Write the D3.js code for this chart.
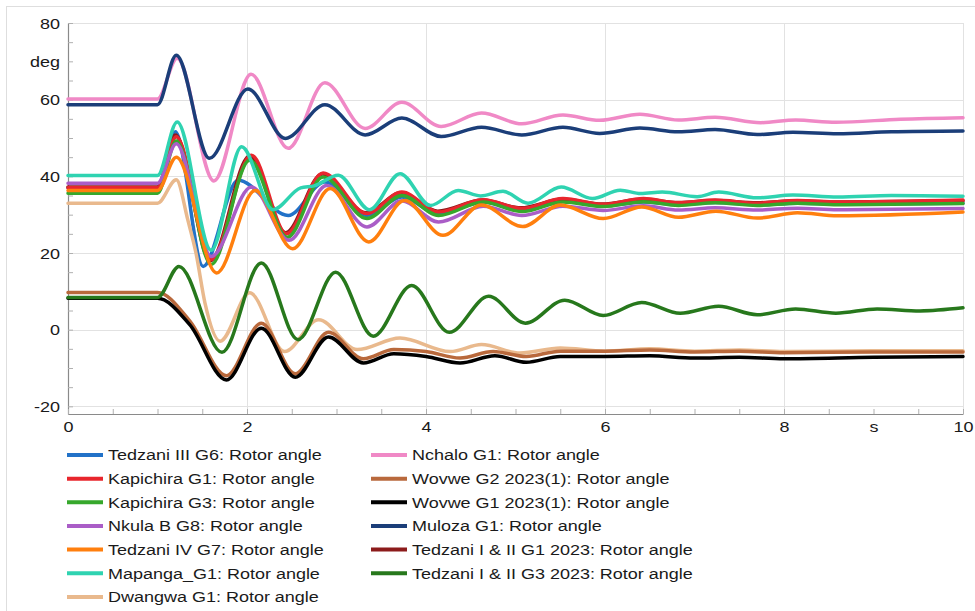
<!DOCTYPE html>
<html>
<head>
<meta charset="utf-8">
<script src="https://cdn.jsdelivr.net/npm/d3@7"></script>
<style>
  html, body { margin: 0; padding: 0; background: #fff; }
  svg { display: block; font-family: "Liberation Sans", Arial, sans-serif; }
</style>
</head>
<body>
<svg id="chart" width="975" height="611"></svg>
<script>
// Generator rotor angles after the disturbance at t = 1 s.
// Each entry: [time in s, rotor angle in deg]
const tedzaniIII_G6 = [[0,37.0],[1.0,37.0],[1.2,51.6],[1.51,16.5],[1.9,39.0],[2.46,29.8],[2.87,38.5],[3.34,29.8],[3.73,34.6],[4.14,30.2],[4.64,33.3],[5.07,31.3],[5.53,33.5],[5.98,32.3],[6.43,33.3],[6.82,32.6],[7.23,33.2],[7.7,32.6],[8.15,33.0],[8.6,32.8],[10,33.0]];
const kapichiraG1 = [[0,37.0],[1.0,37.0],[1.21,50.3],[1.6,18.3],[2.05,45.5],[2.44,25.0],[2.85,40.9],[3.34,30.3],[3.73,35.9],[4.14,30.7],[4.64,33.9],[5.07,31.6],[5.53,34.2],[5.98,32.7],[6.43,34.2],[6.82,33.1],[7.23,33.8],[7.7,33.0],[8.15,33.7],[8.6,33.3],[10,33.8]];
const kapichiraG3 = [[0,35.6],[1.0,35.6],[1.21,49.2],[1.6,17.0],[2.03,44.2],[2.45,24.1],[2.85,39.8],[3.34,29.0],[3.73,35.0],[4.14,29.8],[4.64,33.3],[5.07,30.8],[5.53,33.3],[5.98,32.1],[6.43,33.4],[6.82,32.4],[7.23,33.1],[7.7,32.4],[8.15,33.0],[8.6,32.6],[10,32.9]];
const nkulaB_G8 = [[0,38.2],[1.0,38.2],[1.21,48.5],[1.6,19.1],[2.05,37.2],[2.47,23.3],[2.89,37.6],[3.34,26.8],[3.73,33.6],[4.14,28.1],[4.64,32.2],[5.07,29.8],[5.53,32.2],[5.98,31.1],[6.43,32.3],[6.82,31.2],[7.23,31.8],[7.7,31.2],[8.15,31.7],[8.6,31.3],[10,31.6]];
const tedzaniIV_G7 = [[0,36.3],[1.0,36.3],[1.21,45.0],[1.66,14.8],[2.09,36.3],[2.51,21.1],[2.93,36.8],[3.36,22.9],[3.76,33.7],[4.19,24.6],[4.62,32.5],[5.08,26.9],[5.5,32.5],[5.98,29.0],[6.41,32.0],[6.82,29.3],[7.24,30.9],[7.7,29.1],[8.15,30.5],[8.6,29.7],[10,30.7]];
const mapangaG1 = [[0,40.2],[1.0,40.2],[1.22,54.2],[1.6,20.7],[1.94,47.7],[2.29,31.3],[2.6,37.0],[2.75,37.5],[3.02,40.3],[3.37,31.3],[3.71,40.7],[4.05,32.4],[4.36,36.3],[4.61,34.9],[4.86,36.1],[5.14,33.0],[5.51,37.2],[5.86,34.2],[6.17,36.4],[6.4,35.5],[6.64,35.9],[7.03,34.7],[7.27,35.9],[7.7,34.4],[8.1,35.1],[8.6,34.6],[9.2,35.0],[10,34.8]];
const dwangwaG1 = [[0,33.0],[1.0,33.0],[1.21,39.1],[1.34,28.5],[1.43,20.0],[1.53,7.0],[1.70,-3.0],[2.03,9.6],[2.42,-5.7],[2.80,2.6],[3.23,-5.2],[3.71,-2.2],[4.27,-5.7],[4.62,-3.9],[5.05,-6.1],[5.5,-4.8],[6.0,-5.6],[6.5,-5.0],[7.0,-5.6],[7.5,-5.3],[8.0,-5.7],[9.0,-5.5],[10,-5.5]];
const nchaloG1 = [[0,60.2],[1.0,60.2],[1.22,70.8],[1.63,38.8],[2.045,66.6],[2.46,47.3],[2.87,64.4],[3.32,52.5],[3.73,59.3],[4.17,53.0],[4.62,56.5],[5.07,53.7],[5.53,56.0],[5.94,54.6],[6.39,56.2],[6.82,54.7],[7.23,55.4],[7.74,54.0],[8.13,54.7],[8.58,54.1],[9.3,54.9],[10,55.3]];
const wovweG2 = [[0,9.7],[1.0,9.7],[1.36,2.3],[1.77,-12.0],[2.16,1.7],[2.54,-11.5],[2.91,-0.7],[3.30,-7.6],[3.64,-5.2],[4.0,-5.7],[4.38,-7.4],[4.75,-5.7],[5.12,-7.0],[5.5,-5.6],[6.0,-5.6],[6.5,-5.3],[7.0,-5.8],[7.5,-5.6],[8.0,-6.0],[9.0,-5.8],[10,-5.8]];
const wovweG1 = [[0,8.2],[1.0,8.2],[1.36,1.3],[1.77,-13.1],[2.16,0.4],[2.54,-12.4],[2.91,-1.9],[3.30,-8.7],[3.64,-6.3],[4.0,-7.0],[4.38,-8.7],[4.77,-6.8],[5.12,-8.5],[5.5,-7.0],[6.0,-7.0],[6.5,-6.8],[7.0,-7.4],[7.5,-7.2],[8.0,-7.6],[9.0,-7.2],[10,-7.0]];
const mulozaG1 = [[0,58.7],[1.0,58.7],[1.21,71.6],[1.58,44.7],[2.01,62.8],[2.43,49.9],[2.87,58.7],[3.32,50.8],[3.73,55.2],[4.17,50.4],[4.62,52.8],[5.07,50.8],[5.53,52.8],[5.94,51.2],[6.39,52.6],[6.82,51.6],[7.23,52.2],[7.7,50.9],[8.1,51.5],[8.6,51.1],[9.2,51.6],[10,51.8]];
const tedzaniI_II_G1 = [[0,37.2],[1.0,37.2],[1.2,50.8],[1.59,18.0],[2.03,45.3],[2.43,25.3],[2.84,40.6],[3.33,30.5],[3.72,35.7],[4.13,30.9],[4.63,33.8],[5.06,31.8],[5.52,34.0],[5.97,32.8],[6.42,34.0],[6.82,33.2],[7.23,33.7],[7.7,33.1],[8.15,33.6],[8.6,33.3],[10,33.6]];
const tedzaniI_II_G3 = [[0,8.4],[1.0,8.4],[1.24,16.5],[1.72,-5.9],[2.16,17.4],[2.57,-2.6],[2.99,15.0],[3.41,-1.7],[3.84,11.5],[4.26,-0.7],[4.70,8.7],[5.11,1.7],[5.55,7.7],[5.98,3.7],[6.41,7.1],[6.84,4.3],[7.27,6.1],[7.70,3.9],[8.13,5.4],[8.58,4.3],[9.04,5.4],[9.52,4.9],[10,5.7]];

const seriesNames = [
  "Tedzani III G6: Rotor angle",
  "Kapichira G1: Rotor angle",
  "Kapichira G3: Rotor angle",
  "Nkula B G8: Rotor angle",
  "Tedzani IV G7: Rotor angle",
  "Mapanga_G1: Rotor angle",
  "Dwangwa G1: Rotor angle",
  "Nchalo G1: Rotor angle",
  "Wovwe G2 2023(1): Rotor angle",
  "Wovwe G1 2023(1): Rotor angle",
  "Muloza G1: Rotor angle",
  "Tedzani I & II G1 2023: Rotor angle",
  "Tedzani I & II G3 2023: Rotor angle"
];
const seriesData = [tedzaniIII_G6, kapichiraG1, kapichiraG3, nkulaB_G8, tedzaniIV_G7, mapangaG1, dwangwaG1,
                    nchaloG1, wovweG2, wovweG1, mulozaG1, tedzaniI_II_G1, tedzaniI_II_G3];
const seriesColors = ["#2272c8", "#e8262d", "#36a82c", "#aa5dc7", "#ff7f0e", "#2fd3b1", "#e9b98d",
                      "#f089c6", "#b9693c", "#000000", "#1b3e79", "#8c1b1b", "#27781c"];

const xTickStep = 0.5;
const xLabelValues = [0, 2, 4, 6, 8, 10];
const xUnitAt = 9, xUnit = "s";
const yTickStep = 5;
const yLabelValues = [-20, 0, 20, 40, 60, 80];
const yUnitAt = 70, yUnit = "deg";

// ---- layout ----
const svg = d3.select("#chart");
const x = d3.scaleLinear().domain([0, 10]).range([68, 963]);
const y = d3.scaleLinear().domain([-22, 80]).range([414, 23]);
const textStretch = "scale(1.2,1)";

svg.append("rect")
  .attr("x", 6.5).attr("y", 6.5).attr("width", 990).attr("height", 620)
  .attr("fill", "#fff").attr("stroke", "#dedede");

// grid
const grid = svg.append("g").attr("stroke", "#e2e2e2").attr("stroke-width", 1);
grid.selectAll("line.h").data(yLabelValues).join("line").attr("class", "h")
  .attr("x1", x(0)).attr("x2", x(10))
  .attr("y1", d => Math.round(y(d)) + 0.5).attr("y2", d => Math.round(y(d)) + 0.5);
grid.selectAll("line.v").data(xLabelValues.filter(d => d > 0)).join("line").attr("class", "v")
  .attr("y1", y(80)).attr("y2", y(-22))
  .attr("x1", d => Math.round(x(d)) + 0.5).attr("x2", d => Math.round(x(d)) + 0.5);

// axes
const yAxis = d3.axisLeft(y)
  .tickValues(d3.range(-20, 80.01, yTickStep))
  .tickSize(-5).tickSizeOuter(0)
  .tickFormat(d => d === yUnitAt ? yUnit : (yLabelValues.includes(d) ? String(d) : ""));
const gy = svg.append("g").attr("transform", `translate(${x(0)},0)`).call(yAxis);

const xAxis = d3.axisBottom(x)
  .tickValues(d3.range(0, 10.001, xTickStep))
  .tickSize(-5).tickSizeOuter(0)
  .tickFormat(d => Math.abs(d - xUnitAt) < 1e-9 ? xUnit : (xLabelValues.includes(d) ? String(d) : ""));
const gx = svg.append("g").attr("transform", `translate(0,${y(-22)})`).call(xAxis);

[gx, gy].forEach(g => {
  g.select(".domain").attr("stroke", "#8a8a8a").attr("stroke-width", 1.2);
  g.selectAll(".tick line").attr("stroke", "#b0b0b0");
  g.selectAll(".tick text").attr("fill", "#1a1a1a").attr("font-size", 15);
});
gy.selectAll(".tick text")
  .attr("x", 0).attr("dy", "0.35em").attr("text-anchor", "end")
  .attr("transform", `translate(-8,0) ${textStretch}`);
gx.selectAll(".tick text")
  .attr("y", 0).attr("dy", "0.71em").attr("text-anchor", "middle")
  .attr("transform", `translate(0,7) ${textStretch}`);

// curves
const line = d3.line()
  .x(d => x(d[0])).y(d => y(d[1]))
  .curve(d3.curveMonotoneX);
const drawOrder = [0, 11, 1, 2, 3, 4, 5, 6, 7, 8, 9, 12, 10];
const plot = svg.append("g");
drawOrder.forEach(i => {
  plot.append("path")
    .datum(seriesData[i])
    .attr("d", line)
    .attr("fill", "none")
    .attr("stroke", seriesColors[i])
    .attr("stroke-width", 3.5)
    .attr("stroke-linejoin", "round")
    .attr("stroke-linecap", "round");
});

// legend
const legend = svg.append("g").attr("font-size", 15).attr("fill", "#1a1a1a");
const perColumn = 7;
seriesNames.forEach((name, i) => {
  const col = Math.floor(i / perColumn), row = i % perColumn;
  const lx = col === 0 ? 67 : 371;
  const ly = 455 + row * 23.65;
  legend.append("line")
    .attr("x1", lx).attr("x2", lx + 36).attr("y1", ly).attr("y2", ly)
    .attr("stroke", seriesColors[i]).attr("stroke-width", 4);
  legend.append("text")
    .attr("transform", `translate(${lx + 41},${ly}) ${textStretch}`)
    .attr("dy", "0.35em")
    .text(name);
});
</script>
</body>
</html>
